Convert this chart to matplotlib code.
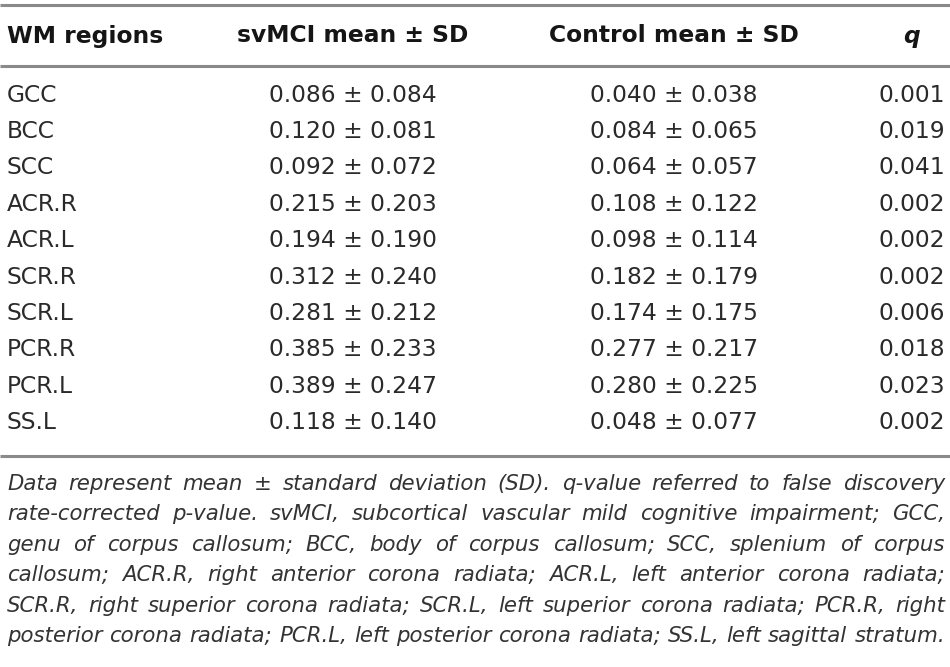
import matplotlib
matplotlib.use('Agg')
import matplotlib.pyplot as plt

# table content
headers = ['WM regions', 'svMCI mean \u00b1 SD', 'Control mean \u00b1 SD', 'q']
regions = ['GCC', 'BCC', 'SCC', 'ACR.R', 'ACR.L', 'SCR.R', 'SCR.L', 'PCR.R', 'PCR.L', 'SS.L']
svmci_mean = ['0.086', '0.120', '0.092', '0.215', '0.194', '0.312', '0.281', '0.385', '0.389', '0.118']
svmci_sd = ['0.084', '0.081', '0.072', '0.203', '0.190', '0.240', '0.212', '0.233', '0.247', '0.140']
control_mean = ['0.040', '0.084', '0.064', '0.108', '0.098', '0.182', '0.174', '0.277', '0.280', '0.048']
control_sd = ['0.038', '0.065', '0.057', '0.122', '0.114', '0.179', '0.175', '0.217', '0.225', '0.077']
q_values = ['0.001', '0.019', '0.041', '0.002', '0.002', '0.002', '0.006', '0.018', '0.023', '0.002']

note_lines = [
    'Data represent mean \u00b1 standard deviation (SD). q-value referred to false discovery',
    'rate-corrected p-value. svMCI, subcortical vascular mild cognitive impairment; GCC,',
    'genu of corpus callosum; BCC, body of corpus callosum; SCC, splenium of corpus',
    'callosum; ACR.R, right anterior corona radiata; ACR.L, left anterior corona radiata;',
    'SCR.R, right superior corona radiata; SCR.L, left superior corona radiata; PCR.R, right',
    'posterior corona radiata; PCR.L, left posterior corona radiata; SS.L, left sagittal stratum.',
]

plt.rcParams['font.family'] = ['DejaVu Sans']

W, H = 950, 667
fig = plt.figure(figsize=(W / 100, H / 100), dpi=100)
ax = fig.add_axes([0, 0, 1, 1])
ax.set_xlim(0, W)
ax.set_ylim(H, 0)
ax.axis('off')

left, right = 7, 945
col_x = [left, 353, 674, 912]
line_col = '#8a8a8a'
head_col = '#151515'
body_col = '#2a2a2a'
fs = 16.8

# rules
for yy in [5, 66, 456]:
    ax.plot([0, W], [yy, yy], color=line_col, lw=2.2, solid_capstyle='butt')

# header
head_y = 36
ax.text(col_x[0], head_y, headers[0], ha='left', va='center', fontsize=fs,
        fontweight='bold', color=head_col)
ax.text(col_x[1], head_y, headers[1], ha='center', va='center', fontsize=fs,
        fontweight='bold', color=head_col)
ax.text(col_x[2], head_y, headers[2], ha='center', va='center', fontsize=fs,
        fontweight='bold', color=head_col)
ax.text(col_x[3], head_y, headers[3], ha='center', va='center', fontsize=fs,
        fontweight='bold', fontstyle='italic', color=head_col)

# rows
row0, dy = 95, 36.4
for i, reg in enumerate(regions):
    y = row0 + i * dy
    ax.text(col_x[0], y, reg, ha='left', va='center', fontsize=fs, color=body_col)
    ax.text(col_x[1], y, svmci_mean[i] + ' \u00b1 ' + svmci_sd[i], ha='center',
            va='center', fontsize=fs, color=body_col)
    ax.text(col_x[2], y, control_mean[i] + ' \u00b1 ' + control_sd[i], ha='center',
            va='center', fontsize=fs, color=body_col)
    ax.text(col_x[3], y, q_values[i], ha='center', va='center', fontsize=fs,
            color=body_col)

# footnote, justified
fig.canvas.draw()
renderer = fig.canvas.get_renderer()
note_y0, note_dy = 484, 30.4
for i, line in enumerate(note_lines):
    y = note_y0 + i * note_dy
    words = line.split(' ')
    texts = [ax.text(0, y, w, ha='left', va='center', fontsize=15.3,
                     fontstyle='italic', color='#333333') for w in words]
    widths = [t.get_window_extent(renderer).width for t in texts]
    gap = (right - left - sum(widths)) / (len(words) - 1)
    x = left
    for t, w in zip(texts, widths):
        t.set_x(x)
        x += w + gap

fig.savefig('out.png', dpi=100)
